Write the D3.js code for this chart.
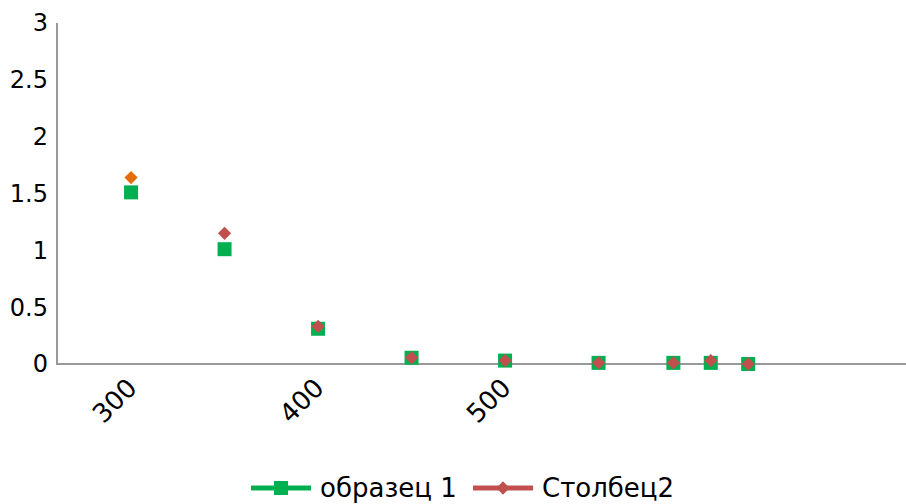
<!DOCTYPE html>
<html>
<head>
<meta charset="utf-8">
<script src="https://cdn.jsdelivr.net/npm/d3@7"></script>
<style>
  body { margin: 0; background: #fff; }
  text { font-family: "DejaVu Sans", sans-serif; fill: #000; }
</style>
</head>
<body>
<div id="chart"></div>
<script>
// Data
var xValues = [300, 350, 400, 450, 500, 550, 590, 610, 630];
var series1 = [1.51, 1.01, 0.31, 0.055, 0.03, 0.01, 0.01, 0.01, 0.0];
var series2 = [1.64, 1.15, 0.33, 0.055, 0.03, 0.01, 0.01, 0.03, 0.0];
var seriesNames = ["образец 1", "Столбец2"];
var xTicks = [300, 400, 500];
var yTicks = [0, 0.5, 1, 1.5, 2, 2.5, 3];

var svgWidth = 906;
var svgHeight = 504;

var green = "#00b050";
var red = "#c0504d";
var orange = "#e46c0a";

var svg = d3.select("#chart")
    .append("svg")
    .attr("width", svgWidth)
    .attr("height", svgHeight);

// Scales
var xScale = d3.scaleLinear()
    .domain([260.4, 714.4])
    .range([57, 906]);

var yScale = d3.scaleLinear()
    .domain([0, 3])
    .range([364, 23]);

// Axes lines
svg.append("line")
    .attr("x1", 57).attr("x2", 57)
    .attr("y1", yScale(3)).attr("y2", yScale(0))
    .attr("stroke", "#999").attr("stroke-width", 2);

svg.append("line")
    .attr("x1", 56).attr("x2", 906)
    .attr("y1", yScale(0)).attr("y2", yScale(0))
    .attr("stroke", "#999").attr("stroke-width", 2);

// Y tick labels
svg.selectAll(".ylab")
    .data(yTicks)
    .enter()
    .append("text")
    .attr("x", 48)
    .attr("y", d => yScale(d))
    .attr("dy", "0.35em")
    .attr("text-anchor", "end")
    .attr("font-size", "24px")
    .text(d => d);

// X tick labels (rotated)
svg.selectAll(".xlab")
    .data(xTicks)
    .enter()
    .append("text")
    .attr("transform", d => "translate(" + (xScale(d) + 1) + ",383) rotate(-45)")
    .attr("dy", "0.35em")
    .attr("text-anchor", "end")
    .attr("font-size", "26px")
    .text(d => d);

// Series 1: squares
var sq = 14;
svg.selectAll(".s1")
    .data(xValues)
    .enter()
    .append("rect")
    .attr("x", (d, i) => xScale(d) - sq / 2)
    .attr("y", (d, i) => yScale(series1[i]) - sq / 2)
    .attr("width", sq)
    .attr("height", sq)
    .attr("fill", green);

// Series 2: diamonds
var diamond = d3.symbol().type(d3.symbolDiamond2).size(112);
svg.selectAll(".s2")
    .data(xValues)
    .enter()
    .append("path")
    .attr("d", diamond)
    .attr("transform", (d, i) => "translate(" + xScale(d) + "," + yScale(series2[i]) + ")")
    .attr("fill", (d, i) => i === 0 ? orange : red);

// Legend
var legend = svg.append("g");
var ly = 488;

legend.append("line")
    .attr("x1", 251).attr("x2", 311)
    .attr("y1", ly).attr("y2", ly)
    .attr("stroke", green).attr("stroke-width", 5);
legend.append("rect")
    .attr("x", 281 - 7).attr("y", ly - 7)
    .attr("width", 14).attr("height", 14)
    .attr("fill", green);
legend.append("text")
    .attr("x", 320).attr("y", ly)
    .attr("dy", "0.35em")
    .attr("font-size", "26px")
    .text(seriesNames[0]);

legend.append("line")
    .attr("x1", 473).attr("x2", 533)
    .attr("y1", ly).attr("y2", ly)
    .attr("stroke", red).attr("stroke-width", 5);
legend.append("path")
    .attr("d", diamond)
    .attr("transform", "translate(503," + ly + ")")
    .attr("fill", red);
legend.append("text")
    .attr("x", 542).attr("y", ly)
    .attr("dy", "0.35em")
    .attr("font-size", "26px")
    .text(seriesNames[1]);
</script>
</body>
</html>
